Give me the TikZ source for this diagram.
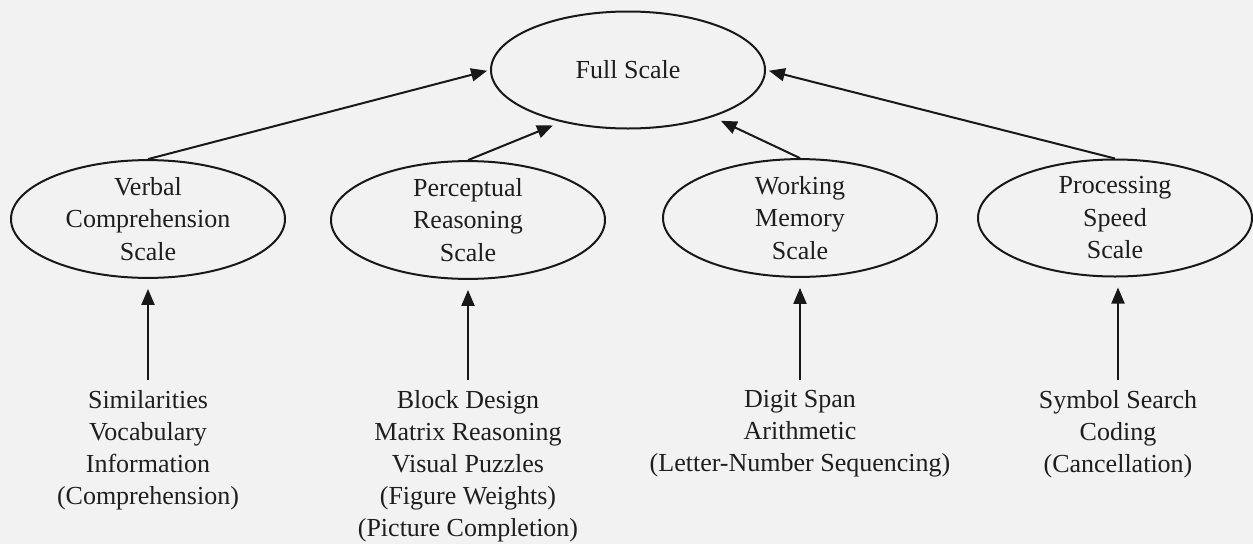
\documentclass[tikz,border=0pt]{standalone}
\usepackage{fontspec}
\setmainfont{Liberation Serif}
\usetikzlibrary{shapes.geometric,arrows.meta}
\definecolor{bg}{HTML}{F2F2F2}
\definecolor{ink}{HTML}{181818}
\definecolor{txt}{HTML}{1E1E1E}
\begin{document}
\begin{tikzpicture}[x=1pt,y=-1pt,
  oval/.style={ellipse,draw=ink,line width=2pt,minimum width=274pt,minimum height=117pt,inner sep=0pt,align=center,font=\fontsize{26}{32.5}\selectfont,text=txt},
  lbl/.style={align=center,font=\fontsize{26}{32}\selectfont,text=txt,inner sep=0pt,anchor=north},
  arr/.style={draw=ink,line width=2pt,-{Triangle[length=16pt,width=13pt]}}]
\fill[bg] (0,0) rectangle (1253,544);
\useasboundingbox (0,0) rectangle (1253,544);
\node[oval] (f) at (628,70) {Full Scale};
\node[oval] (v) at (148,219) {Verbal\\Comprehension\\Scale};
\node[oval] (p) at (468,220) {Perceptual\\Reasoning\\Scale};
\node[oval] (w) at (800,218) {Working\\Memory\\Scale};
\node[oval] (r) at (1115,218) {Processing\\Speed\\Scale};
\node[lbl] (s1) at (148,390) {Similarities\\Vocabulary\\Information\\(Comprehension)};
\node[lbl] (s2) at (468,390) {Block Design\\Matrix Reasoning\\Visual Puzzles\\(Figure Weights)\\(Picture Completion)};
\node[lbl] (s3) at (800,390) {Digit Span\\Arithmetic\\(Letter-Number Sequencing)};
\node[lbl] (s4) at (1118,390) {Symbol Search\\Coding\\(Cancellation)};
\draw[arr,shorten >=3pt] (v.north) -- (f.west);
\draw[arr,shorten >=9pt] (p.north) -- (f.218);
\draw[arr,shorten >=9pt] (w.north) -- (f.331);
\draw[arr,shorten >=3pt] (r.north) -- (f.east);
\draw[arr,shorten >=10pt] ([yshift=10pt]s1.north) -- (v.south);
\draw[arr,shorten >=10pt] ([yshift=10pt]s2.north) -- (p.south);
\draw[arr,shorten >=10pt] ([yshift=10pt]s3.north) -- (w.south);
\draw[arr,shorten >=10pt] ([yshift=10pt]s4.north) -- (r.south -| s4.north);
\end{tikzpicture}
\end{document}
